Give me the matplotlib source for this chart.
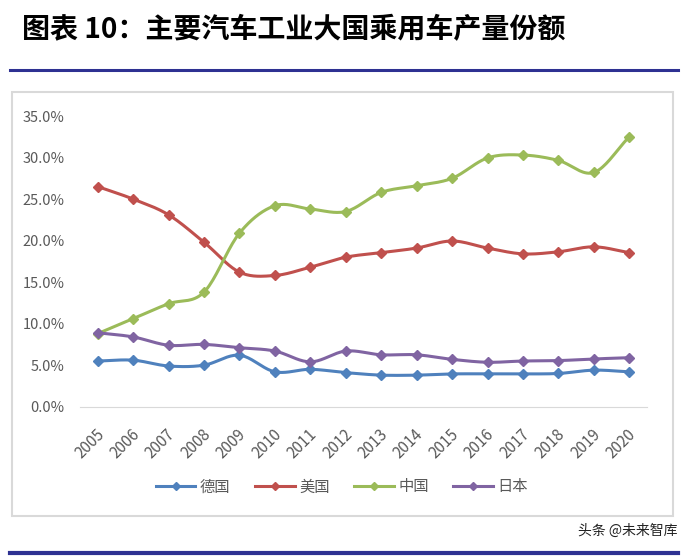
import matplotlib.pyplot as plt
import matplotlib.transforms as mtransforms
from matplotlib.lines import Line2D
from matplotlib.patches import Rectangle
import numpy as np

plt.rcParams['font.family'] = ['Noto Sans CJK SC', 'DejaVu Sans']

years = [str(y) for y in range(2005, 2021)]
germany = [5.5, 5.6, 4.9, 5.0, 6.2, 4.2, 4.5, 4.1, 3.8, 3.8, 3.95, 3.95, 3.95, 4.0, 4.4, 4.2]
usa = [26.5, 25.0, 23.1, 19.8, 16.2, 15.8, 16.8, 18.0, 18.55, 19.1, 19.95, 19.1, 18.4, 18.65, 19.25, 18.55]
china = [8.8, 10.6, 12.4, 13.8, 20.9, 24.2, 23.8, 23.5, 25.8, 26.6, 27.5, 29.95, 30.3, 29.65, 28.2, 32.5]
japan = [8.9, 8.4, 7.4, 7.5, 7.1, 6.7, 5.4, 6.7, 6.25, 6.25, 5.7, 5.35, 5.5, 5.55, 5.75, 5.9]

series = [('德国', germany, '#4F81BD'),
          ('美国', usa, '#C0504D'),
          ('中国', china, '#9BBB59'),
          ('日本', japan, '#8064A2')]


def smooth(x, y, n=20):
    # catmull-rom, roughly what excel does for "smoothed line"
    x = np.asarray(x, float)
    y = np.asarray(y, float)
    px = np.concatenate([[2 * x[0] - x[1]], x, [2 * x[-1] - x[-2]]])
    py = np.concatenate([[2 * y[0] - y[1]], y, [2 * y[-1] - y[-2]]])
    xs, ys = [], []
    t = np.linspace(0, 1, n, endpoint=False)
    for i in range(1, len(px) - 2):
        for p, out in ((px, xs), (py, ys)):
            p0, p1, p2, p3 = p[i - 1], p[i], p[i + 1], p[i + 2]
            out.extend(0.5 * ((2 * p1) + (-p0 + p2) * t
                              + (2 * p0 - 5 * p1 + 4 * p2 - p3) * t ** 2
                              + (-p0 + 3 * p1 - 3 * p2 + p3) * t ** 3))
    xs.append(x[-1])
    ys.append(y[-1])
    return np.array(xs), np.array(ys)


fig = plt.figure(figsize=(6.91, 5.58), dpi=100)

# title and rules
fig.text(22 / 691, 1 - 30 / 558, '图表 10：主要汽车工业大国乘用车产量份额',
         fontsize=20.2, fontweight='bold', va='center', ha='left', color='black')
fig.add_artist(Line2D([10 / 691, 678 / 691], [1 - 70 / 558] * 2, color='#2E3192', lw=2.2))
fig.add_artist(Line2D([10 / 691, 678 / 691], [1 - 553 / 558] * 2, color='#2E3192', lw=3))
fig.add_artist(Rectangle((12 / 691, 1 - 516 / 558), 661 / 691, 424 / 558,
                         fill=False, ec='#D9D9D9', lw=1.5))
fig.text(677 / 691, 1 - 531 / 558, '头条 @未来智库', fontsize=10, ha='right', va='center',
         color='#222222')

ax = fig.add_axes([80 / 691, 1 - 406.7 / 558, 567 / 691, 290.7 / 558])
xpos = np.arange(len(years))
for name, vals, col in series:
    sx, sy = smooth(xpos, vals)
    ax.plot(sx, sy, color=col, lw=2.2, solid_capstyle='round')
    ax.plot(xpos, vals, ls='none', marker='D', ms=5, color=col)

ax.set_xlim(-0.5, len(years) - 0.5)
ax.set_ylim(0, 35)
ax.set_yticks(np.arange(0, 36, 5))
ax.set_yticklabels([f'{v:.1f}%' for v in np.arange(0, 36, 5)])
ax.set_xticks(xpos)
ax.set_xticklabels(years, rotation=45, ha='right', va='center', rotation_mode='anchor')
ax.tick_params(axis='x', length=0, pad=18, labelsize=11, labelcolor='#595959')
ax.tick_params(axis='y', length=0, pad=11, labelsize=10.5, labelcolor='#595959')
shift = mtransforms.ScaledTranslation(4 / 100, 0, fig.dpi_scale_trans)
for lab in ax.get_xticklabels():
    lab.set_transform(lab.get_transform() + shift)
for s in ['top', 'right', 'left']:
    ax.spines[s].set_visible(False)
ax.spines['bottom'].set_color('#D9D9D9')

handles = [Line2D([], [], color=col, lw=2.2, marker='D', ms=4) for _, _, col in series]
fig.legend(handles, [s[0] for s in series], loc='center', ncol=4,
           bbox_to_anchor=(342 / 691, 1 - 487 / 558), frameon=False,
           fontsize=11, labelcolor='#595959', handlelength=2.6, handletextpad=0.3,
           columnspacing=1.6)

fig.savefig('out.png', dpi=100)
